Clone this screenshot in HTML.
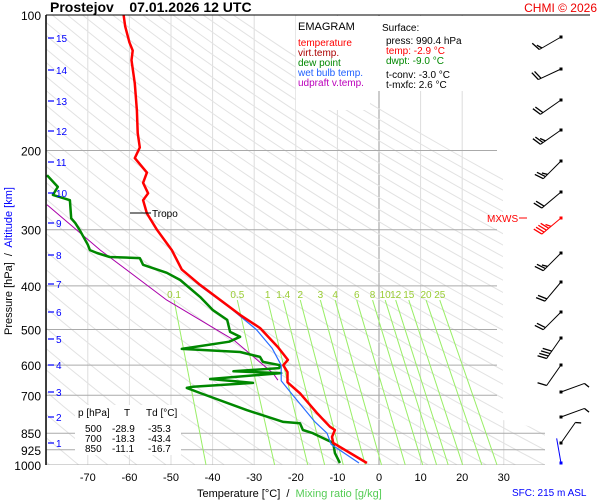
<!DOCTYPE html>
<html><head><meta charset="utf-8"><style>
html,body{margin:0;padding:0;background:#fff}
svg{display:block;font-family:"Liberation Sans",sans-serif}
svg text{white-space:pre}
</style></head><body>
<svg id="chart" width="600" height="500" viewBox="0 0 600 500">
<defs><clipPath id="plotclip"><polygon points="46,15 503,15 503,420 545,430 545,465 46,465"/></clipPath></defs>
<rect width="600" height="500" fill="#fff"/>
<g id="grid" clip-path="url(#plotclip)"></g>
<g id="series" clip-path="url(#plotclip)"></g>
<g id="axes"></g>
<g id="barbs"></g>

<text x="50" y="12" font-size="14" font-weight="bold" fill="#000">Prostejov    07.01.2026 12 UTC</text>
<text x="597" y="12" font-size="12" fill="#e00" text-anchor="end">CHMI © 2026</text>

<g>
<rect x="296" y="16" width="74" height="94" fill="#fff"/>
<text x="298" y="30" font-size="11" fill="#000">EMAGRAM</text>
<text x="298" y="46" font-size="10" fill="#f00">temperature</text>
<text x="298" y="56" font-size="10" fill="#a00">virt.temp.</text>
<text x="298" y="66" font-size="10" fill="#080">dew point</text>
<text x="298" y="76" font-size="10" fill="#2060ff">wet bulb temp.</text>
<text x="298" y="86" font-size="10" fill="#b0b">udpraft v.temp.</text>
</g>
<g>
<rect x="378" y="16" width="105" height="75" fill="#fff"/>
<text x="382" y="31" font-size="10" fill="#000">Surface:</text>
<text x="386" y="44" font-size="10" fill="#000">press: 990.4 hPa</text>
<text x="386" y="54" font-size="10" fill="#f00">temp: -2.9 °C</text>
<text x="386" y="64" font-size="10" fill="#080">dwpt: -9.0 °C</text>
<text x="386" y="78" font-size="10" fill="#000">t-conv: -3.0 °C</text>
<text x="386" y="88" font-size="10" fill="#000">t-mxfc: 2.6 °C</text>
</g>
<g>
<rect x="75" y="405" width="106" height="50" fill="#fff"/>
<text x="78" y="416" font-size="10">p [hPa]</text><text x="124" y="416" font-size="10">T</text><text x="146" y="416" font-size="10">Td [°C]</text>
<text x="85" y="432" font-size="10">500</text><text x="112" y="432" font-size="10">-28.9</text><text x="148" y="432" font-size="10">-35.3</text>
<text x="85" y="442" font-size="10">700</text><text x="112" y="442" font-size="10">-18.3</text><text x="148" y="442" font-size="10">-43.4</text>
<text x="85" y="452" font-size="10">850</text><text x="112" y="452" font-size="10">-11.1</text><text x="148" y="452" font-size="10">-16.7</text>
</g>
<line x1="130" y1="213" x2="151" y2="213" stroke="#000" stroke-width="1"/>
<text x="152" y="217" font-size="10">Tropo</text>
<text x="487" y="222" font-size="10" fill="#f00">MXWS</text>
<line x1="519" y1="218" x2="527" y2="218" stroke="#f00"/>
<text transform="translate(12,335) rotate(-90)" font-size="11"><tspan fill="#000">Pressure [hPa]  /  </tspan><tspan fill="#00f">Altitude [km]</tspan></text>
<text x="197" y="497" font-size="11"><tspan fill="#000">Temperature [°C]  /  </tspan><tspan fill="#5c5">Mixing ratio [g/kg]</tspan></text>
<text x="512" y="496" font-size="10" fill="#00f">SFC: 215 m ASL</text>
</svg>
<script>
const tempTicks=[-70,-60,-50,-40,-30,-20,-10,0,10,20,30];
const pressTicks=[100,200,300,400,500,600,700,850,925,1000];
const altKm=[1,2,3,4,5,6,7,8,9,10,11,12,13,14,15];
const altY=[443,417,392,365,339,312,284,255,223,193,162,131,101,70,38];
const mixRatios=[0.1,0.5,1,1.4,2,3,4,6,8,10,12,15,20,25];
const tempP=[990,893,866,836,822,765,693,655,622,600,584,547,496,464,398,368,333,300,276,258,249,236,224,208,197,183,163,142,126,120,115,106,100];
const tempT=[-2.9,-11,-11.3,-10.6,-11.8,-15,-19,-22,-22,-23,-21.9,-24.3,-28.6,-33.4,-43,-47.4,-49.8,-53.4,-55.8,-56.7,-55.5,-56.7,-55.8,-58.7,-57.5,-58,-58.2,-58.7,-59.5,-59.2,-60,-61,-61.4];
const dewP=[990,941,893,880,850,836,808,802,755,692,674,670,657,644,625,619,609,600,590,575,561,552,532,519,506,476,453,423,388,374,359,347,345,338,333,324,300,290,283,258,251,241,227];
const dewT=[-9.4,-10.6,-11,-12.5,-15.9,-18.3,-19,-23,-31.8,-43,-46.2,-44.7,-30.3,-40.6,-23.5,-35,-24,-23.8,-27.9,-28.6,-33.4,-47.4,-36,-33.4,-35.8,-36.5,-39.9,-43,-47.8,-51,-56.7,-57.5,-64.7,-67.8,-69.5,-70,-72,-73,-74,-74.3,-78.4,-77.2,-79.8];
const wetP=[990,900,850,800,700,650,600,550,500,450,400,368,333];
const wetT=[-4.8,-11.5,-12.5,-15.5,-20.7,-23.5,-23.5,-25.7,-29.5,-35.5,-43,-47.4,-49.8];
const parcelP=[648,625,527,430,333,264];
const parcelT=[-24.3,-25.5,-35,-51,-67,-79.8];
const barbY=[37,69,100,130,161,192,218,253,282,312,338,365,392,417,443,463];
const barbDir=[240,245,235,235,225,230,230,225,220,225,215,215,70,70,35,350];
const barbKt=[15,20,20,25,25,20,45,25,20,20,40,10,5,5,5,0];

const NS='http://www.w3.org/2000/svg';
const X=t=>379+4.16*t;
const Y=p=>15+450*Math.log10(p/100);
function mk(parent,tag,attrs){const e=document.createElementNS(NS,tag);for(const k in attrs)e.setAttribute(k,attrs[k]);document.getElementById(parent).appendChild(e);return e;}
for(let t=-80;t<=30;t+=10){const l=mk('grid','line',{x1:X(t),y1:15,x2:X(t),y2:465,stroke:t===0?'#999':'#ddd','stroke-width':1});

}
for(let th=180;th<=460;th+=7){let pts=[];for(let p=100;p<=1000;p+=20){pts.push(X(th*Math.pow(p/1000,0.286)-273.15).toFixed(1)+','+Y(p).toFixed(1));}
const l=mk('grid','polyline',{points:pts.join(' '),fill:'none',stroke:'#e2e2e2','stroke-width':1});

}
pressTicks.slice(1).forEach(p=>{const l=mk('grid','line',{x1:46,y1:Y(p),x2:p>=850?545:497,y2:Y(p),stroke:'#aaa','stroke-width':1});

});
function tdOf(w,p){const e=w*p/(622+w);const x=Math.log(e/6.112);return 243.5*x/(17.67-x);}
mixRatios.forEach(w=>{const l=mk('grid','line',{x1:X(tdOf(w,430)),y1:Y(430),x2:X(tdOf(w,1000)),y2:465,stroke:'#9e6','stroke-width':1});


const tx=mk('axes','text',{x:X(tdOf(w,430)),y:298,'font-size':10,fill:'#9c3','text-anchor':'middle'});tx.textContent=w;

});
function line(P,T,color,w,name){const pts=P.map((p,i)=>X(T[i]).toFixed(1)+','+Y(p).toFixed(1)).join(' ');const l=mk('series','polyline',{points:pts,fill:'none',stroke:color,'stroke-width':w,'stroke-linejoin':'round'});

}
line(parcelP,parcelT,'#a0a',1,'updraft-line');
line(dewP,dewT,'#080',2.5,'dewpoint-line');
line(wetP,wetT,'#2a6eff',1.2,'wetbulb-line');
line(tempP,tempT,'#f00',2.5,'temperature-line');
mk('axes','line',{x1:46,y1:15,x2:46,y2:465,stroke:'#000','stroke-width':1.5});
mk('axes','line',{x1:46,y1:15,x2:590,y2:15,stroke:'#000','stroke-width':1});
pressTicks.forEach(p=>{const t=mk('axes','text',{x:41,y:Y(p)+5,'font-size':12,'text-anchor':'end'});t.textContent=p;

});
tempTicks.forEach(v=>{const t=mk('axes','text',{x:X(v),y:481,'font-size':11,'text-anchor':'middle'});t.textContent=v;

});
altKm.forEach((k,i)=>{mk('axes','line',{x1:48,y1:altY[i],x2:54,y2:altY[i],stroke:'#00f','stroke-width':1.2});
const t=mk('axes','text',{x:56,y:altY[i]+4,'font-size':10,fill:'#00f'});t.textContent=k;

});
barbY.forEach((y,i)=>{const x=561;const col=i===6?'#f00':(i===15?'#00f':'#000');const a=barbDir[i]*Math.PI/180;const L=25;
const ex=x+L*Math.sin(a),ey=y-L*Math.cos(a);
const g=mk('barbs','g',{});


const s=document.createElementNS(NS,'line');s.setAttribute('x1',x);s.setAttribute('y1',y);s.setAttribute('x2',ex);s.setAttribute('y2',ey);s.setAttribute('stroke',col);g.appendChild(s);
const d=document.createElementNS(NS,'rect');d.setAttribute('x',x-1.5);d.setAttribute('y',y-1.5);d.setAttribute('width',3);d.setAttribute('height',3);d.setAttribute('fill',col);g.appendChild(d);
let kt=barbKt[i],k=0;const ux=Math.sin(a),uy=-Math.cos(a);const px=-uy,py=ux;
while(kt>=5){const len=kt>=10?9:5;const bx=ex-ux*k*3,by=ey-uy*k*3;const f=document.createElementNS(NS,'line');
f.setAttribute('x1',bx);f.setAttribute('y1',by);f.setAttribute('x2',bx+px*len+ux*3);f.setAttribute('y2',by+py*len+uy*3);f.setAttribute('stroke',col);f.setAttribute('stroke-width',1.3);g.appendChild(f);
kt-=kt>=10?10:5;k++;}
});
</script>
</body></html>
